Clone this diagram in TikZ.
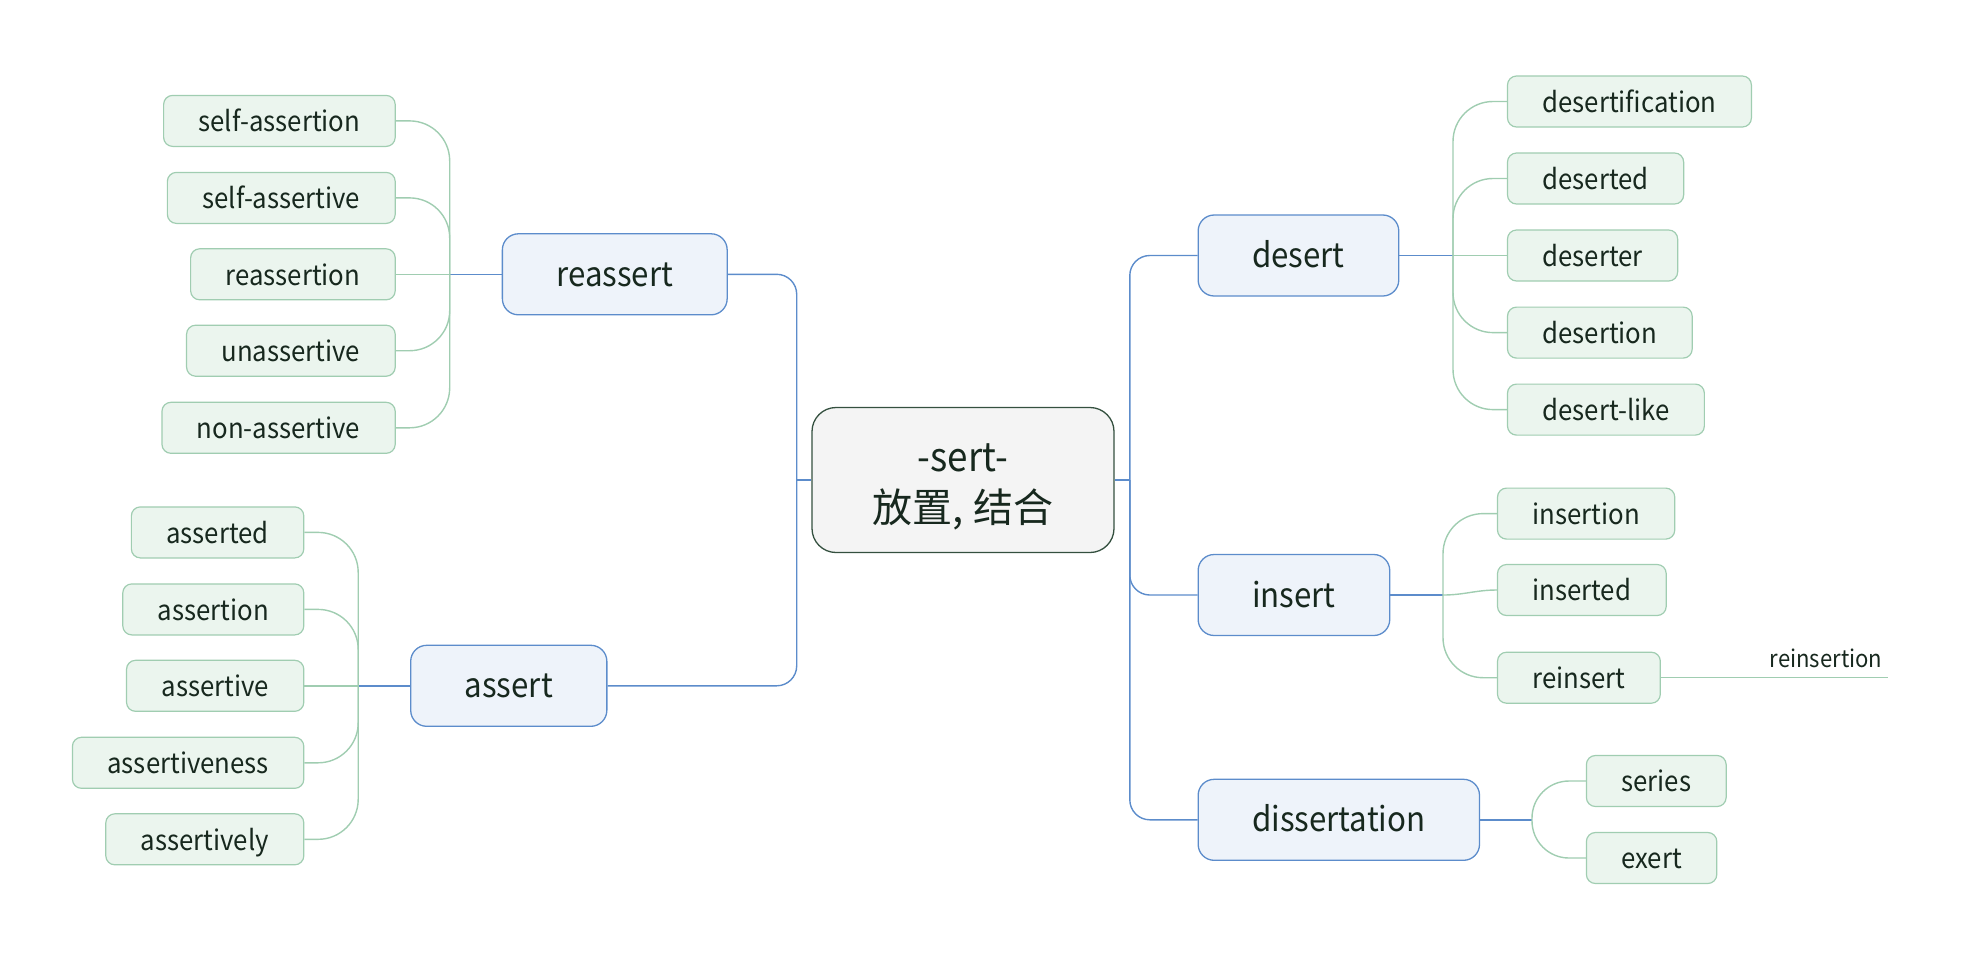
\documentclass[tikz,border=0pt]{standalone}
\usepackage{fontspec}
\newfontfamily\cjk{Noto Sans CJK SC}
\newfontfamily\lat[FakeStretch=0.92]{Noto Sans CJK SC}
\definecolor{ink}{HTML}{17281E}
\definecolor{rootfill}{HTML}{F4F4F4}
\definecolor{rootline}{HTML}{34503F}
\definecolor{bluefill}{HTML}{EEF3FA}
\definecolor{blueline}{HTML}{5C8CCB}
\definecolor{greenfill}{HTML}{EBF5EE}
\definecolor{greenline}{HTML}{A0CDB1}
\begin{document}
\begin{tikzpicture}[x=1pt,y=-1pt]
        \tikzstyle{root}=[rounded corners=24pt,draw=rootline,fill=rootfill,line width=1.3pt,minimum width=302pt,minimum height=145pt,align=center,text=ink,font=\fontsize{40}{51}\selectfont]
        \tikzstyle{branch}=[rounded corners=16pt,draw=blueline,fill=bluefill,line width=1.3pt,minimum height=81pt,inner xsep=54pt,text height=28pt,text depth=4pt,text=ink,font=\lat\fontsize{34}{40}\selectfont]
        \tikzstyle{leaf}=[rounded corners=9pt,draw=greenline,fill=greenfill,line width=1.2pt,minimum height=51pt,inner xsep=35pt,text height=25.6pt,text depth=4pt,text=ink,font=\lat\fontsize{28}{34}\selectfont]
        \tikzstyle{trunk}=[draw=blueline,line width=1.4pt]
        \tikzstyle{twig}=[draw=greenline,line width=1.4pt]
        \useasboundingbox (0,0) rectangle (1964,959);

        % centre
        \node [root] (sert) at (963,480) {\lat\rule{0pt}{42pt}-sert-\\\cjk 放置, 结合};
        \coordinate (trunkL) at (796.7,480);
        \coordinate (trunkR) at (1129.8,480);

        % left side
        \node [branch,anchor=east] (reassert) at (727.8,274.3) {reassert};
        \node [branch,anchor=east] (assert) at (607.5,685.8) {assert};

        \node [leaf,anchor=east] (selfassertion) at (395.8,120.9) {self-assertion};
        \node [leaf,anchor=east] (selfassertive) at (395.8,197.9) {self-assertive};
        \node [leaf,anchor=east] (reassertion) at (395.8,274.3) {reassertion};
        \node [leaf,anchor=east] (unassertive) at (395.8,350.7) {unassertive};
        \node [leaf,anchor=east] (nonassertive) at (395.8,427.8) {non-assertive};
        \coordinate (reassertHub) at (449.7,274.3);

        \node [leaf,anchor=east] (asserted) at (304.4,532.4) {asserted};
        \node [leaf,anchor=east] (assertion) at (304.4,609.4) {assertion};
        \node [leaf,anchor=east] (assertive) at (304.4,685.8) {assertive};
        \node [leaf,anchor=east] (assertiveness) at (304.4,762.8) {assertiveness};
        \node [leaf,anchor=east] (assertively) at (304.4,839.3) {assertively};
        \coordinate (assertHub) at (358.2,685.8);

        % right side
        \node [branch,anchor=west] (desert) at (1197.5,255.5) {desert};
        \node [branch,anchor=west] (insert) at (1197.5,595) {insert};
        \node [branch,anchor=west] (dissertation) at (1197.5,819.8) {dissertation};

        \node [leaf,anchor=west] (desertification) at (1506.9,101.5) {desertification};
        \node [leaf,anchor=west] (deserted) at (1506.9,178.5) {deserted};
        \node [leaf,anchor=west] (deserter) at (1506.9,255.5) {deserter};
        \node [leaf,anchor=west] (desertion) at (1506.9,332.6) {desertion};
        \node [leaf,anchor=west] (desertlike) at (1506.9,409.6) {desert-like};
        \coordinate (desertHub) at (1453,255.5);

        \node [leaf,anchor=west] (insertion) at (1496.9,513.6) {insertion};
        \node [leaf,anchor=west] (inserted) at (1496.9,590) {inserted};
        \node [leaf,anchor=west] (reinsert) at (1496.9,677.7) {reinsert};
        \coordinate (insertHub) at (1443,595);
        \coordinate (reinsEnd) at (1888,677.7);

        \node [leaf,anchor=west] (series) at (1585.8,781) {series};
        \node [leaf,anchor=west] (exert) at (1585.8,858) {exert};
        \coordinate (dissHub) at (1532,819.8);

        % trunks
        \path[trunk] (sert.west) -- (trunkL);
        \path[trunk] (sert.east) -- (trunkR);
        \path[trunk,rounded corners=20pt] (trunkL) |- (reassert.east);
        \path[trunk,rounded corners=20pt] (trunkL) |- (assert.east);
        \path[trunk,rounded corners=20pt] (trunkR) |- (desert.west);
        \path[trunk,rounded corners=20pt] (trunkR) |- (insert.west);
        \path[trunk,rounded corners=20pt] (trunkR) |- (dissertation.west);

        \path[trunk] (reassert.west) -- (reassertHub);
        \path[trunk] (assert.west) -- (assertHub);
        \path[trunk] (desert.east) -- (desertHub);
        \path[trunk] (insert.east) -- (insertHub);
        \path[trunk] (dissertation.east) -- (dissHub);

        % twigs
        \path[twig,rounded corners=40pt] (reassertHub) |- (selfassertion.east);
        \path[twig,rounded corners=40pt] (reassertHub) |- (selfassertive.east);
        \path[twig] (reassertHub) -- (reassertion.east);
        \path[twig,rounded corners=40pt] (reassertHub) |- (unassertive.east);
        \path[twig,rounded corners=40pt] (reassertHub) |- (nonassertive.east);

        \path[twig,rounded corners=40pt] (assertHub) |- (asserted.east);
        \path[twig,rounded corners=40pt] (assertHub) |- (assertion.east);
        \path[twig] (assertHub) -- (assertive.east);
        \path[twig,rounded corners=40pt] (assertHub) |- (assertiveness.east);
        \path[twig,rounded corners=40pt] (assertHub) |- (assertively.east);

        \path[twig,rounded corners=40pt] (desertHub) |- (desertification.west);
        \path[twig,rounded corners=40pt] (desertHub) |- (deserted.west);
        \path[twig] (desertHub) -- (deserter.west);
        \path[twig,rounded corners=40pt] (desertHub) |- (desertion.west);
        \path[twig,rounded corners=40pt] (desertHub) |- (desertlike.west);

        \path[twig,rounded corners=40pt] (insertHub) |- (insertion.west);
        \path[twig] (insertHub) to[out=0,in=180] (inserted.west);
        \path[twig,rounded corners=40pt] (insertHub) |- (reinsert.west);
        \path[twig] (reinsert.east) -- (reinsEnd) node[anchor=south east,inner xsep=5pt,inner ysep=9pt,text=ink,font=\lat\fontsize{24}{30}\selectfont] {reinsertion};

        \path[twig,rounded corners=37pt] (dissHub) |- (series.west);
        \path[twig,rounded corners=37pt] (dissHub) |- (exert.west);
\end{tikzpicture}
\end{document}
